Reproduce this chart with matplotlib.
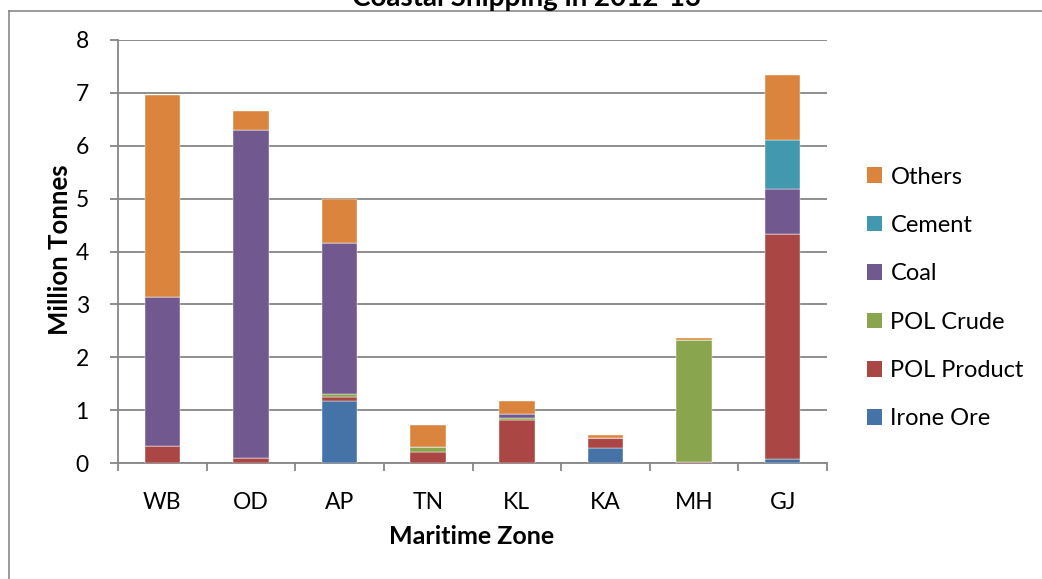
import matplotlib
matplotlib.use("Agg")
import matplotlib.pyplot as plt
from matplotlib.patches import Patch
from matplotlib.lines import Line2D
import numpy as np

# ---- data (million tonnes) ----
zones = ["WB", "OD", "AP", "TN", "KL", "KA", "MH", "GJ"]
iron_ore    = [0.00, 0.00, 1.17, 0.00, 0.00, 0.29, 0.00, 0.07]
pol_product = [0.32, 0.09, 0.08, 0.20, 0.81, 0.19, 0.02, 4.26]
pol_crude   = [0.00, 0.00, 0.05, 0.10, 0.05, 0.00, 2.31, 0.00]
coal        = [2.82, 6.21, 2.86, 0.00, 0.07, 0.00, 0.00, 0.86]
cement      = [0.00, 0.00, 0.01, 0.00, 0.00, 0.00, 0.00, 0.92]
others      = [3.82, 0.36, 0.83, 0.41, 0.25, 0.05, 0.04, 1.23]

series = [
    ("Irone Ore", iron_ore, "#4572A7"),
    ("POL Product", pol_product, "#AA4643"),
    ("POL Crude", pol_crude, "#89A54E"),
    ("Coal", coal, "#71588F"),
    ("Cement", cement, "#4198AF"),
    ("Others", others, "#DB843D"),
]

plt.rcParams["font.family"] = ["Lato", "DejaVu Sans"]
GRID = "#868686"

W, H = 1042, 579
fig = plt.figure(figsize=(W / 100, H / 100), dpi=100)
ax = fig.add_axes([118 / W, (H - 463) / H, (827 - 118) / W, (463 - 40) / H])

x = np.arange(len(zones))
bottom = np.zeros(len(zones))
for name, vals, col in series:
    vals = np.array(vals)
    ax.bar(x, vals, 0.4, bottom=bottom, color=col, label=name,
           edgecolor="white", linewidth=0.3, zorder=3)
    bottom += vals

ax.set_xlim(-0.5, len(zones) - 0.5)
ax.set_ylim(0, 8)
ax.set_yticks(range(0, 9))
ax.yaxis.grid(True, color=GRID, linewidth=1.3, zorder=0)
ax.set_axisbelow(True)

ax.set_xticks(x)
ax.set_xticklabels(zones)
ax.set_xticks(np.arange(-0.5, len(zones)), minor=True)
ax.tick_params(axis="x", which="major", length=0, pad=21, labelsize=16.5)
ax.tick_params(axis="x", which="minor", length=6, color=GRID, width=1.3)
ax.tick_params(axis="y", length=6, color=GRID, width=1.3, pad=15, labelsize=16.5)

for s in ["top", "right"]:
    ax.spines[s].set_visible(False)
for s in ["left", "bottom"]:
    ax.spines[s].set_color(GRID)
    ax.spines[s].set_linewidth(1.3)

fig.text(60 / W, 1 - 250 / H, "Million Tonnes", rotation=90, ha="center",
         va="center", fontsize=18.5, fontweight="bold")
fig.text(472 / W, 1 - 537 / H, "Maritime Zone", ha="center", va="center",
         fontsize=18, fontweight="bold")

# title sits above the frame line
fig.text(527 / W, 1 - 6 / H, "Coastal Shipping in 2012-13", ha="center",
         va="baseline", fontsize=20, fontweight="bold")

# chart frame
fig.add_artist(Line2D([8.5 / W, 1], [1 - 10.5 / H, 1 - 10.5 / H],
                      color="#8a8a8a", linewidth=1.2))
fig.add_artist(Line2D([8.5 / W, 8.5 / W], [0, 1 - 10.5 / H],
                      color="#8a8a8a", linewidth=1.2))

handles = [Patch(facecolor=c, label=n) for n, _, c in series][::-1]
fig.legend(handles=handles, loc="center left",
           bbox_to_anchor=(867 / W, 1 - 298 / H), frameon=False,
           fontsize=17, handlelength=0.64, handleheight=0.64,
           handletextpad=0.35, labelspacing=1.16, borderpad=0,
           borderaxespad=0)

fig.savefig("out.png", dpi=100, facecolor="white")
